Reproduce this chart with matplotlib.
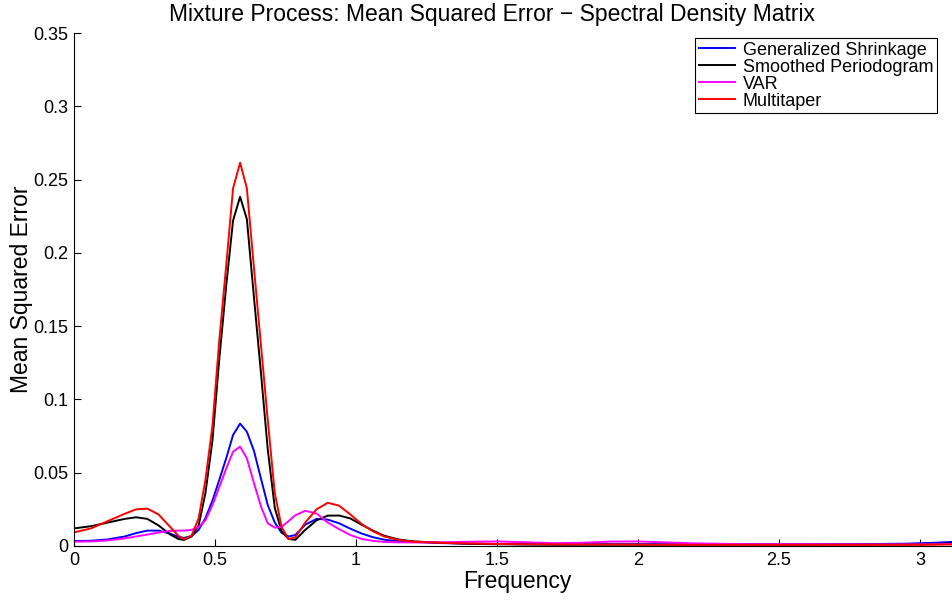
import numpy as np
import matplotlib.pyplot as plt

plt.rcParams["font.family"] = ["Liberation Sans", "DejaVu Sans"]

freq = [0.0, 0.06, 0.12, 0.18, 0.22, 0.26, 0.30, 0.34, 0.37, 0.39,
        0.417, 0.442, 0.466, 0.491, 0.515, 0.540, 0.564, 0.589, 0.613, 0.638,
        0.663, 0.687, 0.712, 0.736, 0.761, 0.785, 0.82, 0.86, 0.90, 0.94,
        0.98, 1.02, 1.06, 1.10, 1.15, 1.20, 1.30, 1.40, 1.50, 1.60,
        1.70, 1.80, 1.90, 2.00, 2.20, 2.40, 2.60, 2.80, 2.95, 3.05, 3.14]

shrinkage = [0.0034, 0.0036, 0.0045, 0.0065, 0.0088, 0.0105, 0.0105, 0.0085, 0.0063, 0.0055,
             0.0068, 0.011, 0.019, 0.031, 0.045, 0.060, 0.0757, 0.0835, 0.078, 0.065,
             0.046, 0.028, 0.016, 0.009, 0.0065, 0.0075, 0.0145, 0.0185, 0.0180, 0.0155,
             0.0118, 0.0085, 0.0060, 0.0043, 0.0033, 0.0028, 0.0020, 0.0016, 0.0014, 0.0013,
             0.0012, 0.0012, 0.0012, 0.0012, 0.0012, 0.0012, 0.0012, 0.0013, 0.0016, 0.0022, 0.0030]

periodogram = [0.0120, 0.0135, 0.0160, 0.0185, 0.0196, 0.0185, 0.0140, 0.0080, 0.0048, 0.0041,
               0.0065, 0.014, 0.036, 0.072, 0.127, 0.178, 0.222, 0.2383, 0.223, 0.170,
               0.118, 0.066, 0.026, 0.010, 0.0048, 0.0042, 0.011, 0.0175, 0.0207, 0.0208,
               0.0188, 0.0145, 0.0105, 0.0070, 0.0045, 0.0032, 0.0022, 0.0015, 0.0012, 0.0010,
               0.0009, 0.0009, 0.0009, 0.0009, 0.0009, 0.0009, 0.0009, 0.0009, 0.0010, 0.0013, 0.0020]

var = [0.0030, 0.0031, 0.0038, 0.0052, 0.0065, 0.0078, 0.0092, 0.0103, 0.0105, 0.0105,
       0.011, 0.013, 0.0175, 0.028, 0.040, 0.053, 0.0643, 0.0678, 0.0598, 0.043,
       0.027, 0.0155, 0.0125, 0.013, 0.017, 0.021, 0.024, 0.0222, 0.016, 0.0115,
       0.0075, 0.0048, 0.0035, 0.0028, 0.0025, 0.0024, 0.0025, 0.0029, 0.0031, 0.0026,
       0.0019, 0.0022, 0.0030, 0.0031, 0.0018, 0.0012, 0.0012, 0.0011, 0.0011, 0.0012, 0.0014]

multitaper = [0.0093, 0.0120, 0.0170, 0.0220, 0.0250, 0.0255, 0.0215, 0.0132, 0.0070, 0.0046,
              0.007, 0.019, 0.045, 0.082, 0.140, 0.192, 0.244, 0.2615, 0.244, 0.190,
              0.137, 0.086, 0.036, 0.013, 0.0046, 0.0060, 0.016, 0.025, 0.0295, 0.0275,
              0.0215, 0.0150, 0.0100, 0.0065, 0.0042, 0.0030, 0.0022, 0.0017, 0.0014, 0.0012,
              0.0011, 0.0010, 0.0010, 0.0009, 0.0008, 0.0008, 0.0008, 0.0008, 0.0008, 0.0009, 0.0011]

fig = plt.figure(figsize=(9.52, 6.01), dpi=100)
# axes runs past the right edge of the figure, like the cropped original
ax = fig.add_axes([74 / 952, 55 / 601, np.pi * 282 / 952, 513 / 601])

ax.plot(freq, shrinkage, color="#0000ff", lw=1.4, label="Generalized Shrinkage")
ax.plot(freq, periodogram, color="black", lw=1.4, label="Smoothed Periodogram")
ax.plot(freq, var, color="#ff00ff", lw=1.4, label="VAR")
ax.plot(freq, multitaper, color="#ff0000", lw=1.4, label="Multitaper")

ax.set_xlim(0, np.pi)
ax.set_ylim(0, 0.35)
ax.set_xticks([0, 0.5, 1, 1.5, 2, 2.5, 3])
ax.set_xticklabels(["0", "0.5", "1", "1.5", "2", "2.5", "3"])
ax.set_yticks(np.arange(0, 0.351, 0.05))
ax.set_yticklabels(["0", "0.05", "0.1", "0.15", "0.2", "0.25", "0.3", "0.35"])
ax.tick_params(direction="in", length=5, labelsize=13, pad=4)
ax.spines["top"].set_visible(False)
ax.spines["right"].set_visible(False)

ax.set_xlabel("Frequency", fontsize=16.5, labelpad=1)
ax.set_ylabel("Mean Squared Error", fontsize=16.5, labelpad=0)
fig.text(492 / 952, 1 - 14 / 601, "Mixture Process: Mean Squared Error \u2212 Spectral Density Matrix",
         ha="center", va="center", fontsize=16.5)

leg = fig.legend(loc="upper right", bbox_to_anchor=(937 / 952, 1 - 38 / 601),
                 fontsize=13, fancybox=False, framealpha=1, edgecolor="black",
                 borderpad=0.2, labelspacing=0.0, handlelength=2.0,
                 handletextpad=0.45, borderaxespad=0)
leg.get_frame().set_linewidth(0.8)

fig.savefig("out.png", dpi=100)
